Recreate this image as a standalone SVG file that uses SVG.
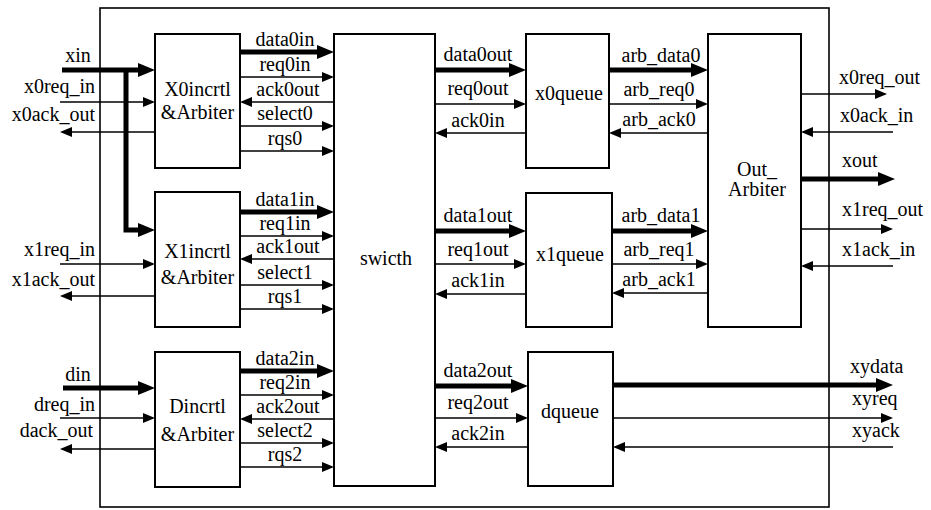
<svg xmlns="http://www.w3.org/2000/svg" width="931" height="510" viewBox="0 0 931 510">
<style>
  .blk { fill: #fff; stroke: #000; stroke-width: 2; }
  .frame { fill: none; stroke: #000; stroke-width: 1.6; }
  .thin { fill: none; stroke: #000; stroke-width: 1.6; marker-end: url(#ah); }
  .thick { fill: none; stroke: #000; stroke-width: 5; marker-end: url(#ahT); }
  text { font-family: "Times New Roman", Times, "Liberation Serif", Tinos, "Noto Serif", "DejaVu Serif", serif; font-size: 20px; fill: #000; }
  .c { text-anchor: middle; }
  .e { text-anchor: end; }
</style>
<defs>
  <marker id="ah" viewBox="0 0 12 10" refX="10" refY="5" markerWidth="12" markerHeight="10" orient="auto" markerUnits="userSpaceOnUse"><path d="M0,0 L12,5 L0,10 z" fill="#000"/></marker>
  <marker id="ahT" viewBox="0 0 17 14" refX="10" refY="7" markerWidth="17" markerHeight="14" orient="auto" markerUnits="userSpaceOnUse"><path d="M0,0 L17,7 L0,14 z" fill="#000"/></marker>
</defs>
<rect width="931" height="510" fill="#fff"/>
<rect id="frame" class="frame" x="100" y="8" width="729" height="499"/>

<g id="x0incrtl">
  <rect class="blk" x="155" y="34" width="85" height="134"/>
  <text class="c" x="197.5" y="96">X0incrtl</text>
  <text class="c" x="197.5" y="119">&amp;Arbiter</text>
</g>
<g id="x1incrtl">
  <rect class="blk" x="155" y="192" width="85" height="135"/>
  <text class="c" x="197.5" y="258">X1incrtl</text>
  <text class="c" x="197.5" y="284">&amp;Arbiter</text>
</g>
<g id="dincrtl">
  <rect class="blk" x="155" y="352" width="85" height="135"/>
  <text class="c" x="197.5" y="413">Dincrtl</text>
  <text class="c" x="197.5" y="441">&amp;Arbiter</text>
</g>
<g id="switch">
  <rect class="blk" x="334" y="34" width="101" height="452"/>
  <text class="c" x="386" y="265">swicth</text>
</g>
<g id="x0queue">
  <rect class="blk" x="526" y="34" width="83" height="134"/>
  <text class="c" x="569" y="100">x0queue</text>
</g>
<g id="x1queue">
  <rect class="blk" x="526" y="193" width="86" height="134"/>
  <text class="c" x="570" y="261">x1queue</text>
</g>
<g id="dqueue">
  <rect class="blk" x="528" y="352" width="85" height="134"/>
  <text class="c" x="570" y="418">dqueue</text>
</g>
<g id="out_arbiter">
  <rect class="blk" x="708" y="34" width="93" height="293"/>
  <text class="c" x="757" y="176">Out_</text>
  <text class="c" x="757" y="196">Arbiter</text>
</g>

<g id="connectors">
  <path class="thick" d="M62,70 H148"/>
  <path class="thick" d="M126,70 V230 H148"/>
  <path class="thin" d="M60,102 H153"/>
  <path class="thin" d="M155,132 H62"/>
  <path class="thin" d="M60,264 H153"/>
  <path class="thin" d="M155,296 H62"/>
  <path class="thick" d="M63,388 H148"/>
  <path class="thin" d="M60,418 H153"/>
  <path class="thin" d="M155,449 H62"/>
  <path class="thick" d="M240,52 H327"/>
  <path class="thin" d="M240,77 H332"/>
  <path class="thin" d="M334,102 H242"/>
  <path class="thin" d="M240,126 H332"/>
  <path class="thin" d="M240,151 H332"/>
  <path class="thick" d="M240,212 H327"/>
  <path class="thin" d="M240,236 H332"/>
  <path class="thin" d="M334,259 H242"/>
  <path class="thin" d="M240,285 H332"/>
  <path class="thin" d="M240,309 H332"/>
  <path class="thick" d="M240,371 H327"/>
  <path class="thin" d="M240,395 H332"/>
  <path class="thin" d="M334,419 H242"/>
  <path class="thin" d="M240,443 H332"/>
  <path class="thin" d="M240,467 H332"/>
  <path class="thick" d="M435,70 H519"/>
  <path class="thin" d="M435,104 H524"/>
  <path class="thin" d="M526,133 H437"/>
  <path class="thick" d="M435,231 H519"/>
  <path class="thin" d="M435,264 H524"/>
  <path class="thin" d="M526,294 H437"/>
  <path class="thick" d="M435,386 H521"/>
  <path class="thin" d="M435,418 H526"/>
  <path class="thin" d="M528,447 H437"/>
  <path class="thick" d="M609,70 H701"/>
  <path class="thin" d="M609,104 H706"/>
  <path class="thin" d="M708,133 H611"/>
  <path class="thick" d="M612,231 H701"/>
  <path class="thin" d="M612,264 H706"/>
  <path class="thin" d="M708,293 H614"/>
  <path class="thin" d="M801,94 H885"/>
  <path class="thin" d="M893,132 H803"/>
  <path class="thick" d="M801,179 H888"/>
  <path class="thin" d="M801,229 H891"/>
  <path class="thin" d="M893,266 H803"/>
  <path class="thick" d="M613,385 H886"/>
  <path class="thin" d="M613,418 H891"/>
  <path class="thin" d="M893,447 H615"/>
</g>

<g id="labels">
  <text class="c" x="78" y="62">xin</text>
  <text class="e" x="95" y="93">x0req_in</text>
  <text class="e" x="95" y="121">x0ack_out</text>
  <text class="e" x="95" y="256">x1req_in</text>
  <text class="e" x="95" y="286">x1ack_out</text>
  <text class="c" x="78" y="381">din</text>
  <text class="e" x="95" y="411">dreq_in</text>
  <text class="e" x="93" y="437">dack_out</text>

  <text class="c" x="285" y="46">data0in</text>
  <text class="c" x="285" y="71">req0in</text>
  <text class="c" x="288" y="96">ack0out</text>
  <text class="c" x="285" y="120">select0</text>
  <text class="c" x="285" y="145">rqs0</text>
  <text class="c" x="285" y="206">data1in</text>
  <text class="c" x="285" y="230">req1in</text>
  <text class="c" x="288" y="253">ack1out</text>
  <text class="c" x="285" y="279">select1</text>
  <text class="c" x="285" y="303">rqs1</text>
  <text class="c" x="285" y="365">data2in</text>
  <text class="c" x="285" y="389">req2in</text>
  <text class="c" x="288" y="413">ack2out</text>
  <text class="c" x="285" y="437">select2</text>
  <text class="c" x="285" y="461">rqs2</text>

  <text class="c" x="478" y="61">data0out</text>
  <text class="c" x="478" y="95">req0out</text>
  <text class="c" x="478" y="127">ack0in</text>
  <text class="c" x="478" y="222">data1out</text>
  <text class="c" x="478" y="256">req1out</text>
  <text class="c" x="478" y="287">ack1in</text>
  <text class="c" x="478" y="377">data2out</text>
  <text class="c" x="478" y="409">req2out</text>
  <text class="c" x="478" y="440">ack2in</text>

  <text class="c" x="661" y="62">arb_data0</text>
  <text class="c" x="659" y="96">arb_req0</text>
  <text class="c" x="659" y="126">arb_ack0</text>
  <text class="c" x="661" y="222">arb_data1</text>
  <text class="c" x="659" y="256">arb_req1</text>
  <text class="c" x="659" y="286">arb_ack1</text>

  <text x="839" y="84">x0req_out</text>
  <text x="840" y="122">x0ack_in</text>
  <text x="842" y="167">xout</text>
  <text x="842" y="216">x1req_out</text>
  <text x="842" y="256">x1ack_in</text>
  <text x="850" y="373">xydata</text>
  <text x="852" y="405">xyreq</text>
  <text x="852" y="437">xyack</text>
</g>
</svg>
